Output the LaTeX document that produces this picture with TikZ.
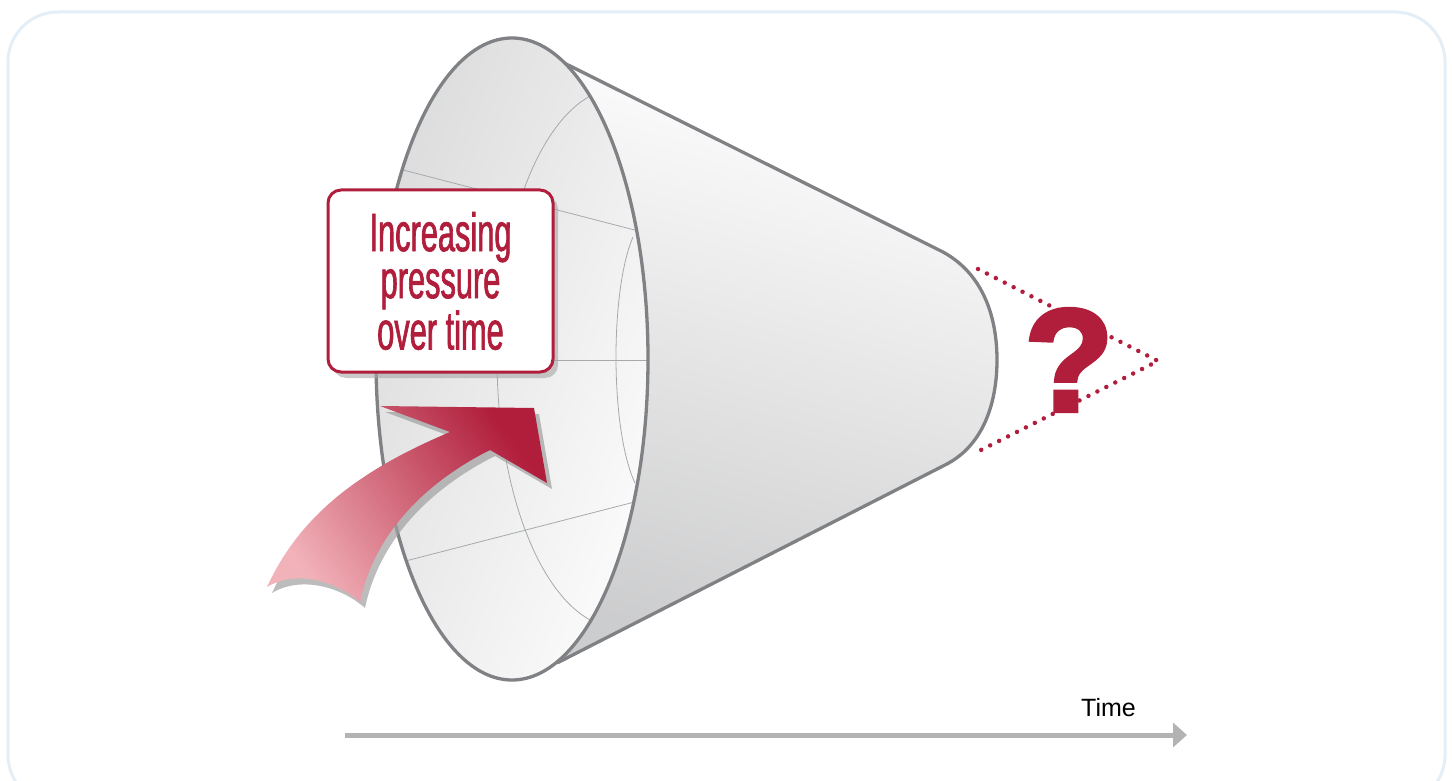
\documentclass[tikz,border=0pt]{standalone}
\usepackage{fontspec}
\setmainfont{Liberation Sans}
\newfontfamily\narrowfont[FakeStretch=0.57,FakeBold=1.2]{Liberation Sans}
\newfontfamily\heavyfont[FakeBold=3]{Liberation Sans Bold}
\usetikzlibrary{arrows.meta,shadows}
\definecolor{pressred}{HTML}{B01E3C}
\definecolor{rimgray}{HTML}{808184}
\definecolor{gridgray}{HTML}{A7A9AC}
\definecolor{frameblue}{HTML}{E3EEF7}
\definecolor{pinkred}{HTML}{F2B2B9}
\definecolor{timegray}{HTML}{B3B3B3}
\tikzset{
  rim/.style={rimgray,line width=3.3pt,line join=round},
  gridline/.style={gridgray,line width=0.8pt},
  pressbox/.style={draw=pressred,line width=3pt,fill=white,rounded corners=13pt,
    minimum width=225pt,minimum height=182pt,align=center,text=pressred,
    font=\narrowfont\fontsize{54}{47}\selectfont,
    drop shadow={shadow xshift=5pt,shadow yshift=-6pt,fill=gray!70,opacity=.6}}
}
\begin{document}
\begin{tikzpicture}[x=1pt,y=-1pt]
\useasboundingbox (0,0) rectangle (1452,781);
\draw[frameblue,line width=3pt,rounded corners=50pt] (8,12) rectangle (1445,805);

\coordinate (mouth) at (512,359);
\coordinate (topjoin) at (548,55);
\coordinate (lowjoin) at (557,663);
\coordinate (backtop) at (943,252);
\coordinate (backend) at (997,360);
\coordinate (backlow) at (945,465);

% outside of the cone
\shade[top color=white,middle color=white!96!rimgray,bottom color=rimgray!40,shading angle=-15]
  (topjoin) -- (backtop) .. controls (985,275) and (997,320) .. (backend)
  .. controls (997,400) and (985,445) .. (backlow) -- (lowjoin) -- (mouth) -- cycle;
\draw[rim] (topjoin) -- (backtop) .. controls (985,275) and (997,320) .. (backend)
  .. controls (997,400) and (985,445) .. (backlow) -- (lowjoin);

% inside of the cone
\shade[left color=rimgray!28,right color=white!97!rimgray,shading angle=70] (mouth) ellipse [x radius=136,y radius=321];
\begin{scope}
  \clip (mouth) ellipse [x radius=136,y radius=321];
  \draw[gridline] (620,358) ellipse [x radius=123,y radius=270];
  \draw[gridline] (633,237) .. controls (610,290) and (610,430) .. (635,483);
  \draw[gridline] (380,164) -- (650,234);
  \draw[gridline] (370,360) -- (660,360);
  \draw[gridline] (390,565) -- (650,498);
\end{scope}
\draw[rim] (mouth) ellipse [x radius=136,y radius=321];

% curved arrow
\fill[gray!75,opacity=.7,xshift=5pt,yshift=-6pt]
  (450,432) -- (380,406) -- (534,408) -- (547,483) -- (490,450)
  .. controls (430,480) and (375,530) .. (360,602)
  .. controls (335,580) and (295,570) .. (267,587)
  .. controls (300,515) and (360,470) .. (450,432) -- cycle;
\shade[left color=pinkred,right color=pressred,shading angle=125]
  (450,432) -- (380,406) -- (534,408) -- (547,483) -- (490,450)
  .. controls (430,480) and (375,530) .. (360,602)
  .. controls (335,580) and (295,570) .. (267,587)
  .. controls (300,515) and (360,470) .. (450,432) -- cycle;

\node[pressbox] (label) at (440.5,281) {Increasing\\pressure\\over time};

% unknown end
\coordinate (dotA) at (978,269);
\coordinate (dotTip) at (1158,361);
\coordinate (dotB) at (977,452);
\draw[pressred,line width=4.5pt,line cap=round,dash pattern=on 0pt off 10pt] (dotA) -- (dotTip) -- (dotB);
\node[font=\heavyfont\fontsize{146}{146}\selectfont,text=pressred,inner sep=0pt] (qmark) at (1069,360) {?};

% time axis
\coordinate (tstart) at (345,735);
\coordinate (tend) at (1187,735);
\draw[timegray,line width=5pt,-{Triangle[length=14pt,width=24pt]}] (tstart) -- (tend);
\node[font=\fontsize{25}{30}\selectfont,anchor=base] (timelabel) at (1108.5,716) {Time};
\end{tikzpicture}
\end{document}
